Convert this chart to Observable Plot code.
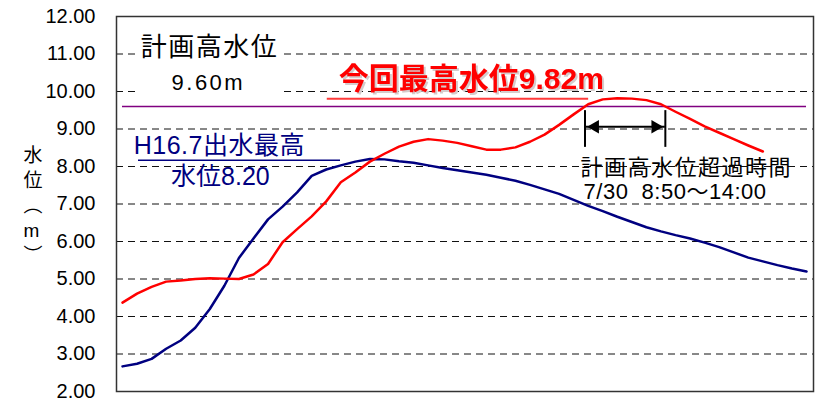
<!DOCTYPE html>
<html>
<head>
<meta charset="utf-8">
<script src="https://cdn.jsdelivr.net/npm/d3@7"></script>
<script src="https://cdn.jsdelivr.net/npm/@observablehq/plot@0.6"></script>
<style>
  body { margin: 0; background: #fff; }
  .ls15 text { letter-spacing: 1.5px; }
  .ls25 text { letter-spacing: 2.5px; }
  .ls1 text { letter-spacing: 1px; }
  .ls05 text { letter-spacing: 0.5px; }
  .shadow { filter: drop-shadow(2px 2px 0 #d4cccc); }
</style>
</head>
<body>
<div id="chart"></div>
<script>
// ---- data ----
const yTicks = [2, 3, 4, 5, 6, 7, 8, 9, 10, 11, 12];
const gridLevels = [3, 4, 5, 6, 7, 8, 9, 10, 11];
const planHighWater = 9.60;
// 今回 (current flood) water level, hourly
const currentLevel = [4.37, 4.61, 4.79, 4.93, 4.96, 5.00, 5.02, 5.01, 5.00, 5.12, 5.40, 5.98, 6.33, 6.67, 7.07, 7.58, 7.84, 8.13, 8.34, 8.53, 8.66, 8.73, 8.69, 8.63, 8.54, 8.45, 8.45, 8.51, 8.66, 8.85, 9.11, 9.39, 9.66, 9.79, 9.82, 9.81, 9.77, 9.66, 9.46, 9.27, 9.07, 8.90, 8.73, 8.56, 8.40];
// H16.7 flood water level, hourly
const h16Level = [2.67, 2.74, 2.87, 3.14, 3.36, 3.70, 4.20, 4.82, 5.56, 6.08, 6.59, 6.93, 7.31, 7.75, 7.92, 8.03, 8.13, 8.20, 8.19, 8.14, 8.10, 8.03, 7.96, 7.90, 7.84, 7.78, 7.70, 7.62, 7.51, 7.39, 7.27, 7.11, 6.95, 6.81, 6.66, 6.52, 6.38, 6.27, 6.17, 6.08, 5.97, 5.85, 5.71, 5.57, 5.47, 5.37, 5.28, 5.20];
const labelPlan = ["計画高水位", "9.60m"];
const labelCurrent = "今回最高水位9.82m";
const labelH16 = ["H16.7出水最高", "水位8.20"];
const labelExceed = ["計画高水位超過時間", "7/30\u00a0\u00a08:50～14:00"];
const yLabel = "水\n位\n︵\nm\n︶";

// ---- derived ----
function crossings(arr, level) {
  const out = [];
  for (let i = 1; i < arr.length; i++) {
    const a = arr[i - 1], b = arr[i];
    if ((a - level) * (b - level) < 0) out.push(i - 1 + (level - a) / (b - a));
  }
  return out;
}
const [exStart, exEnd] = crossings(currentLevel, planHighWater);
const cur = currentLevel.map((v, i) => ({i, v}));
const h16 = h16Level.map((v, i) => ({i, v}));
const lastIdx = h16Level.length - 1;

const cjk = "'Liberation Sans', 'Noto Sans CJK JP', sans-serif";
const latin = "'Liberation Sans', Arial, sans-serif";

const chart = Plot.plot({
  width: 831,
  height: 414,
  marginLeft: 116,
  marginRight: 18,
  marginTop: 16,
  marginBottom: 23,
  x: {domain: [-0.412, 47.48], axis: null},
  y: {domain: [2, 12], axis: null},
  style: {fontFamily: latin, background: "#fff"},
  marks: [
    Plot.ruleY(gridLevels, {stroke: "#111", strokeWidth: 1, strokeDasharray: "7,5"}),
    // white box behind plan-high-water label
    Plot.rect([{}], {x1: 1.03, x2: 10.99, y1: 9.9, y2: 11.5, fill: "#fff"}),
    Plot.ruleY([planHighWater], {x1: 0, x2: lastIdx, stroke: "#800080", strokeWidth: 1.5}),
    Plot.axisY(yTicks, {tickSize: 0, tickPadding: 21, tickFormat: d => d.toFixed(2), fontSize: 20, fontFamily: latin, fill: "#000", label: null}),
    Plot.text([yLabel], {frameAnchor: "left", dx: -93, fontSize: 19, lineHeight: 1.32, fontFamily: cjk, fill: "#000"}),
    Plot.line(h16, {x: "i", y: "v", stroke: "#000080", strokeWidth: 2.5}),
    Plot.line(cur, {x: "i", y: "v", stroke: "#ff0000", strokeWidth: 2.5}),
    // plan high water label
    Plot.text([labelPlan[0]], {x: 5.98, y: 11.17, fontSize: 26, fontFamily: cjk, fill: "#000", className: "ls15"}),
    Plot.text([labelPlan[1]], {x: 5.9, y: 10.24, fontSize: 22, fontFamily: cjk, fill: "#000", className: "ls25"}),
    // current max label (with drop shadow)
    Plot.text([labelCurrent], {x: 23.97, y: 10.33, fontSize: 30, fontWeight: "bold", fontFamily: cjk, fill: "#ff0000", className: "shadow"}),
    Plot.ruleY([9.81], {x1: 14.07, x2: 32.03, stroke: "#ff3a3a", strokeWidth: 2}),
    // H16.7 label
    Plot.text([labelH16[0]], {x: 6.65, y: 8.55, fontSize: 25, fontFamily: cjk, fill: "#000080", className: "ls05"}),
    Plot.ruleY([8.17], {x1: 1.1, x2: 14.98, stroke: "#000080", strokeWidth: 1.5}),
    Plot.text([labelH16[1]], {x: 6.73, y: 7.71, fontSize: 25, fontFamily: cjk, fill: "#000080"}),
    // exceedance bracket
    Plot.ruleX([exStart, exEnd], {y1: 8.51, y2: 9.49, stroke: "#000", strokeWidth: 2}),
    Plot.ruleY([9.06], {x1: exStart, x2: exEnd, stroke: "#000", strokeWidth: 2}),
    Plot.dot([exStart], {x: d => d, y: 9.06, dx: 10, symbol: "triangle2", r: 6.5, rotate: -90, fill: "#000"}),
    Plot.dot([exEnd], {x: d => d, y: 9.06, dx: -10, symbol: "triangle2", r: 6.5, rotate: 90, fill: "#000"}),
    Plot.text([labelExceed[0]], {x: 31.47, y: 7.97, textAnchor: "start", fontSize: 22, fontFamily: cjk, fill: "#000", className: "ls15"}),
    Plot.text([labelExceed[1]], {x: 31.68, y: 7.31, textAnchor: "start", fontSize: 22, fontFamily: cjk, fill: "#000", className: "ls05"}),
    Plot.frame({stroke: "#333", strokeWidth: 1.5})
  ]
});
document.getElementById("chart").appendChild(chart);
</script>
</body>
</html>
